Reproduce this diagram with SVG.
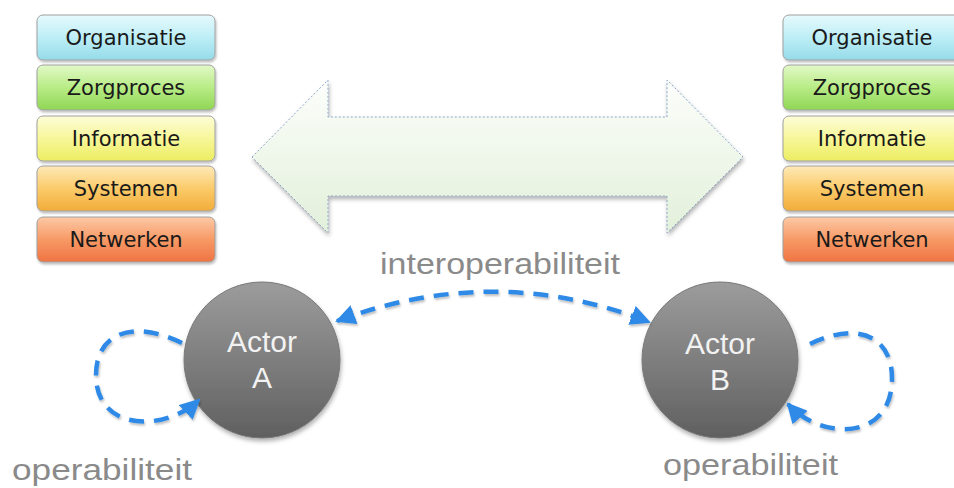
<svg xmlns="http://www.w3.org/2000/svg" width="954" height="488" viewBox="0 0 954 488">
<defs>
<linearGradient id="gOrg" x1="0" y1="0" x2="0" y2="1"><stop offset="0" stop-color="#e6fafd"/><stop offset="0.5" stop-color="#bdeef6"/><stop offset="1" stop-color="#95dbe9"/></linearGradient>
<linearGradient id="gZorg" x1="0" y1="0" x2="0" y2="1"><stop offset="0" stop-color="#e2f9c8"/><stop offset="0.5" stop-color="#b8ec86"/><stop offset="1" stop-color="#8fd655"/></linearGradient>
<linearGradient id="gInfo" x1="0" y1="0" x2="0" y2="1"><stop offset="0" stop-color="#fdfdd8"/><stop offset="0.5" stop-color="#f7f79a"/><stop offset="1" stop-color="#ecec62"/></linearGradient>
<linearGradient id="gSys" x1="0" y1="0" x2="0" y2="1"><stop offset="0" stop-color="#fee9b8"/><stop offset="0.5" stop-color="#fbcb6a"/><stop offset="1" stop-color="#f2ac3a"/></linearGradient>
<linearGradient id="gNet" x1="0" y1="0" x2="0" y2="1"><stop offset="0" stop-color="#fcc9a6"/><stop offset="0.5" stop-color="#f79a66"/><stop offset="1" stop-color="#ef7443"/></linearGradient>
<linearGradient id="gArrow" x1="0" y1="0" x2="0" y2="1"><stop offset="0" stop-color="#fcfefb"/><stop offset="1" stop-color="#e2f0da"/></linearGradient>
<linearGradient id="gActor" x1="0" y1="0" x2="0" y2="1"><stop offset="0" stop-color="#9c9c9c"/><stop offset="1" stop-color="#606060"/></linearGradient>
<filter id="sh" x="-10%" y="-10%" width="130%" height="140%"><feDropShadow dx="1" dy="3" stdDeviation="2" flood-color="#000" flood-opacity="0.3"/></filter>
<filter id="shs" x="-10%" y="-10%" width="130%" height="140%"><feDropShadow dx="1" dy="2" stdDeviation="1.2" flood-color="#000" flood-opacity="0.25"/></filter>
<marker id="ah" viewBox="0 0 10 10" refX="9" refY="5" markerWidth="4.5" markerHeight="4.5" orient="auto-start-reverse" markerUnits="strokeWidth"><path d="M0,0 L10,5 L0,10 Z" fill="#2f8ae6"/></marker>
</defs>
<style>
.box{stroke:#a0a0a0;stroke-width:1;filter:url(#shs)}
.bt{font-family:"DejaVu Sans",Verdana,sans-serif;font-size:21px;fill:#1a1a1a;text-anchor:middle}
.actor{fill:url(#gActor);stroke:#777;stroke-width:1;filter:url(#sh)}
.at{font-family:"Liberation Sans",Arial,sans-serif;font-size:30px;fill:#f2f2f2;text-anchor:middle}
.lbl{font-family:"Liberation Sans",Arial,sans-serif;font-size:30px;fill:#8a8a8a}
.dash{fill:none;stroke:#2f8ae6;stroke-width:4.5;stroke-dasharray:15 10;filter:url(#shs)}
</style>
<g id="bigArrow">
<path d="M252,157 L328,80 L328,117 L667,117 L667,80 L743,157 L667,233 L667,196 L328,196 L328,233 Z" fill="url(#gArrow)" stroke="#8aa6c8" stroke-width="1" stroke-dasharray="2 2" filter="url(#sh)"/>
</g>
<g id="stackLeft">
<g id="orgL"><rect class="box" x="37" y="15" width="178" height="45" rx="6" fill="url(#gOrg)"/><text class="bt" x="126" y="45">Organisatie</text></g>
<g id="zorgL"><rect class="box" x="37" y="65" width="178" height="45" rx="6" fill="url(#gZorg)"/><text class="bt" x="126" y="95">Zorgproces</text></g>
<g id="infoL"><rect class="box" x="37" y="116" width="178" height="45" rx="6" fill="url(#gInfo)"/><text class="bt" x="126" y="146">Informatie</text></g>
<g id="sysL"><rect class="box" x="37" y="166" width="178" height="45" rx="6" fill="url(#gSys)"/><text class="bt" x="126" y="196">Systemen</text></g>
<g id="netL"><rect class="box" x="37" y="217" width="178" height="45" rx="6" fill="url(#gNet)"/><text class="bt" x="126" y="247">Netwerken</text></g>
</g>
<g id="stackRight">
<g id="orgR"><rect class="box" x="783" y="15" width="178" height="45" rx="6" fill="url(#gOrg)"/><text class="bt" x="872" y="45">Organisatie</text></g>
<g id="zorgR"><rect class="box" x="783" y="65" width="178" height="45" rx="6" fill="url(#gZorg)"/><text class="bt" x="872" y="95">Zorgproces</text></g>
<g id="infoR"><rect class="box" x="783" y="116" width="178" height="45" rx="6" fill="url(#gInfo)"/><text class="bt" x="872" y="146">Informatie</text></g>
<g id="sysR"><rect class="box" x="783" y="166" width="178" height="45" rx="6" fill="url(#gSys)"/><text class="bt" x="872" y="196">Systemen</text></g>
<g id="netR"><rect class="box" x="783" y="217" width="178" height="45" rx="6" fill="url(#gNet)"/><text class="bt" x="872" y="247">Netwerken</text></g>
</g>
<g id="actorA"><circle class="actor" cx="262" cy="360" r="78"/><text class="at" x="262" y="352">Actor</text><text class="at" x="262" y="388">A</text></g>
<g id="actorB"><circle class="actor" cx="720" cy="360" r="78"/><text class="at" x="720" y="354">Actor</text><text class="at" x="720" y="390">B</text></g>
<g id="connectors">
<path class="dash" d="M337,321 Q495,262 649,322" marker-start="url(#ah)" marker-end="url(#ah)"/>
<path class="dash" d="M182,343 C130,318 96,335 96,375 C96,432 165,432 199,400" marker-end="url(#ah)"/>
<path class="dash" d="M810,344 C860,320 893,338 892,380 C891,442 820,440 788,404" marker-end="url(#ah)"/>
</g>
<g id="labels">
<text class="lbl" x="12" y="480" textLength="180" lengthAdjust="spacingAndGlyphs">operabiliteit</text>
<text class="lbl" x="380" y="274" textLength="240" lengthAdjust="spacingAndGlyphs">interoperabiliteit</text>
<text class="lbl" x="663" y="475" textLength="175" lengthAdjust="spacingAndGlyphs">operabiliteit</text>
</g>
</svg>
